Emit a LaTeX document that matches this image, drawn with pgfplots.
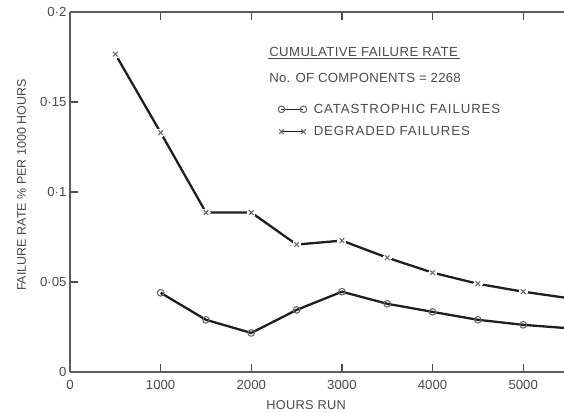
\documentclass[border=0pt]{standalone}
\usepackage{fontspec}
\setmainfont{Liberation Sans}
\usepackage{pgfplots}
\pgfplotsset{compat=1.18}
\definecolor{txt}{HTML}{4A4A4A}
\definecolor{ln}{HTML}{1E1E1E}
\definecolor{mk}{HTML}{6A6A6A}
\begin{document}
\begin{tikzpicture}
\begin{axis}[
  scale only axis,
  width=494bp, height=360bp,
  xmin=0, xmax=5450, ymin=0, ymax=0.2,
  axis x line=box, axis y line=left,
  x axis line style={-}, y axis line style={-},
  axis line style={line width=1.6bp, color=txt!90},
  xtick={0,1000,2000,3000,4000,5000},
  xticklabels={0,1000,2000,3000,4000,5000},
  ytick={0,0.05,0.1,0.15,0.2},
  yticklabels={0,0·05,0·1,0·15,0·2},
  tick align=inside,
  major tick length=8bp,
  tick style={line width=1.2bp, color=txt},
  font=\fontsize{12.5bp}{15bp}\selectfont,
  tick label style={text=txt, font=\fontsize{13.2bp}{15bp}\selectfont},
  xticklabel style={yshift=-5bp},
  xlabel={HOURS RUN},
  label style={text=txt, font=\fontsize{12.8bp}{15bp}\selectfont\addfontfeatures{LetterSpace=2}},
  xlabel style={at={(rel axis cs:0.478,0)}, anchor=north, yshift=-25bp},
  clip mode=individual,
  legend style={at={(rel axis cs:0.421,0.745)}, anchor=north west, draw=none, fill=none,
     inner sep=0pt, row sep=11.5bp, text=txt,
     nodes={font=\fontsize{13.2bp}{15bp}\selectfont\addfontfeatures{LetterSpace=7}, inner xsep=2bp, inner ysep=0pt}},
  legend cell align=left,
  legend image code/.code={%
    \draw[#1, mark=none, line width=1.1bp] (0bp,0bp) -- (22bp,0bp);
    \path[mark repeat=1, line width=1.1bp, #1] plot coordinates {(0bp,0bp) (22bp,0bp)};},
]
\addplot[color=ln, line width=2.3bp, mark=o, mark size=3.3bp,
   mark options={color=mk, fill=white, line width=1.1bp},
   mark indices={1,2,3,4,5,6,7,8,9}]
  coordinates {(1000,0.044) (1500,0.029) (2000,0.0217) (2500,0.0345) (3000,0.0446)
               (3500,0.0379) (4000,0.0334) (4500,0.029) (5000,0.0262) (5500,0.0243)};
\addlegendentry{\hspace{5bp}CATASTROPHIC FAILURES}
\addplot[color=ln, line width=2.3bp, mark=x, mark size=3.3bp,
   mark options={color=mk, line width=1.1bp},
   mark indices={1,2,3,4,5,6,7,8,9,10}]
  coordinates {(500,0.1766) (1000,0.133) (1500,0.0886) (2000,0.0886) (2500,0.0708) (3000,0.073)
               (3500,0.0635) (4000,0.0552) (4500,0.049) (5000,0.0446) (5500,0.041)};
\addlegendentry{\hspace{5bp}DEGRADED FAILURES}
\addplot[only marks, color=white, mark=*, mark size=4.2bp, mark options={draw=white, fill=white, line width=0pt}, forget plot]
  coordinates {(500,0.1766) (1000,0.133) (1500,0.0886) (2000,0.0886) (2500,0.0708) (3000,0.073)
               (3500,0.0635) (4000,0.0552) (4500,0.049) (5000,0.0446)};
\addplot[only marks, color=mk, mark=x, mark size=3.3bp, mark options={color=mk, line width=1.1bp}, forget plot]
  coordinates {(500,0.1766) (1000,0.133) (1500,0.0886) (2000,0.0886) (2500,0.0708) (3000,0.073)
               (3500,0.0635) (4000,0.0552) (4500,0.049) (5000,0.0446)};
\node[anchor=west, inner sep=1.5bp, text=txt, font=\fontsize{13.2bp}{15bp}\selectfont\addfontfeatures{LetterSpace=3}] (ttl) at (rel axis cs:0.4,0.889) {CUMULATIVE FAILURE RATE};
\draw[txt, line width=0.9bp] (ttl.south west) -- (ttl.south east);
\node[anchor=west, inner sep=1.5bp, text=txt, font=\fontsize{13.2bp}{15bp}\selectfont\addfontfeatures{LetterSpace=2}] at (rel axis cs:0.4,0.816) {No. OF COMPONENTS = 2268};
\node[rotate=90, anchor=center, text=txt, font=\fontsize{12.5bp}{15bp}\selectfont] at ([xshift=-48.5bp]rel axis cs:0,0.519) {FAILURE RATE \% PER 1000 HOURS};
\coordinate (bl) at (rel axis cs:0,0);
\coordinate (tr) at (rel axis cs:1,1);
\end{axis}
\pgfresetboundingbox
\path[use as bounding box] ([shift={(-70bp,-41bp)}]bl) rectangle ([shift={(0bp,12bp)}]tr);
\end{tikzpicture}
\end{document}
